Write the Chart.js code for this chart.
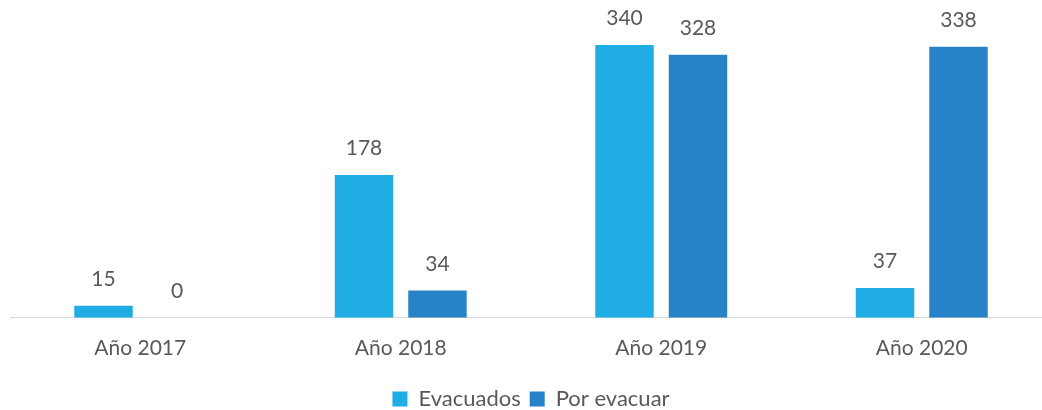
<!DOCTYPE html>
<html>
<head>
<meta charset="utf-8">
<script src="https://cdn.jsdelivr.net/npm/chart.js@4.4.1/dist/chart.umd.min.js"></script>
<style>
  html, body { margin: 0; padding: 0; background: #fff; overflow: hidden; }
  #wrap { width: 1052px; height: 420px; }
</style>
</head>
<body>
<div id="wrap"><canvas id="myChart" width="1052" height="420"></canvas></div>
<script>
// chart data
const categories = ['Año 2017', 'Año 2018', 'Año 2019', 'Año 2020'];
const evacuados = [15, 178, 340, 37];
const porEvacuar = [0, 34, 328, 338];
const seriesNames = ['Evacuados', 'Por evacuar'];

const textColor = '#595959';
const fontFamily = "Lato, 'Open Sans', sans-serif";

// draws the value above each bar
const valueLabels = {
    id: 'valueLabels',
    afterDatasetsDraw(chart) {
        const c = chart.ctx;
        c.save();
        c.fillStyle = textColor;
        c.font = '21px ' + fontFamily;
        c.textAlign = 'center';
        c.textBaseline = 'bottom';
        chart.data.datasets.forEach((ds, i) => {
            chart.getDatasetMeta(i).data.forEach((bar, j) => {
                c.fillText(String(ds.data[j]), bar.x, bar.y - 16);
            });
        });
        c.restore();
    }
};

function initChart() {
    const ctx = document.getElementById('myChart');
    if (!ctx) {
        console.error('Canvas element not found');
        return;
    }
    new Chart(ctx, {
        type: 'bar',
        data: {
            labels: categories,
            datasets: [{
                label: seriesNames[0],
                data: evacuados,
                backgroundColor: '#1FADE4'
            }, {
                label: seriesNames[1],
                data: porEvacuar,
                backgroundColor: '#2882C7'
            }]
        },
        options: {
            responsive: false,
            animation: false,
            categoryPercentage: 0.564,
            barPercentage: 0.796,
            layout: { padding: { top: 5, left: 10, right: 0, bottom: 0 } },
            scales: {
                x: {
                    grid: { display: false, drawTicks: false },
                    border: { display: true, color: '#D9D9D9', width: 1 },
                    ticks: { color: textColor, font: { family: fontFamily, size: 21 }, padding: 18 }
                },
                y: {
                    display: false,
                    min: 0,
                    max: 390
                }
            },
            plugins: {
                legend: {
                    display: true,
                    position: 'bottom',
                    labels: {
                        color: textColor,
                        font: { family: fontFamily, size: 22 },
                        boxWidth: 15,
                        boxHeight: 15,
                        padding: 9
                    }
                },
                tooltip: { enabled: false }
            }
        },
        plugins: [valueLabels]
    });
}

document.addEventListener('DOMContentLoaded', initChart);
</script>
</body>
</html>
